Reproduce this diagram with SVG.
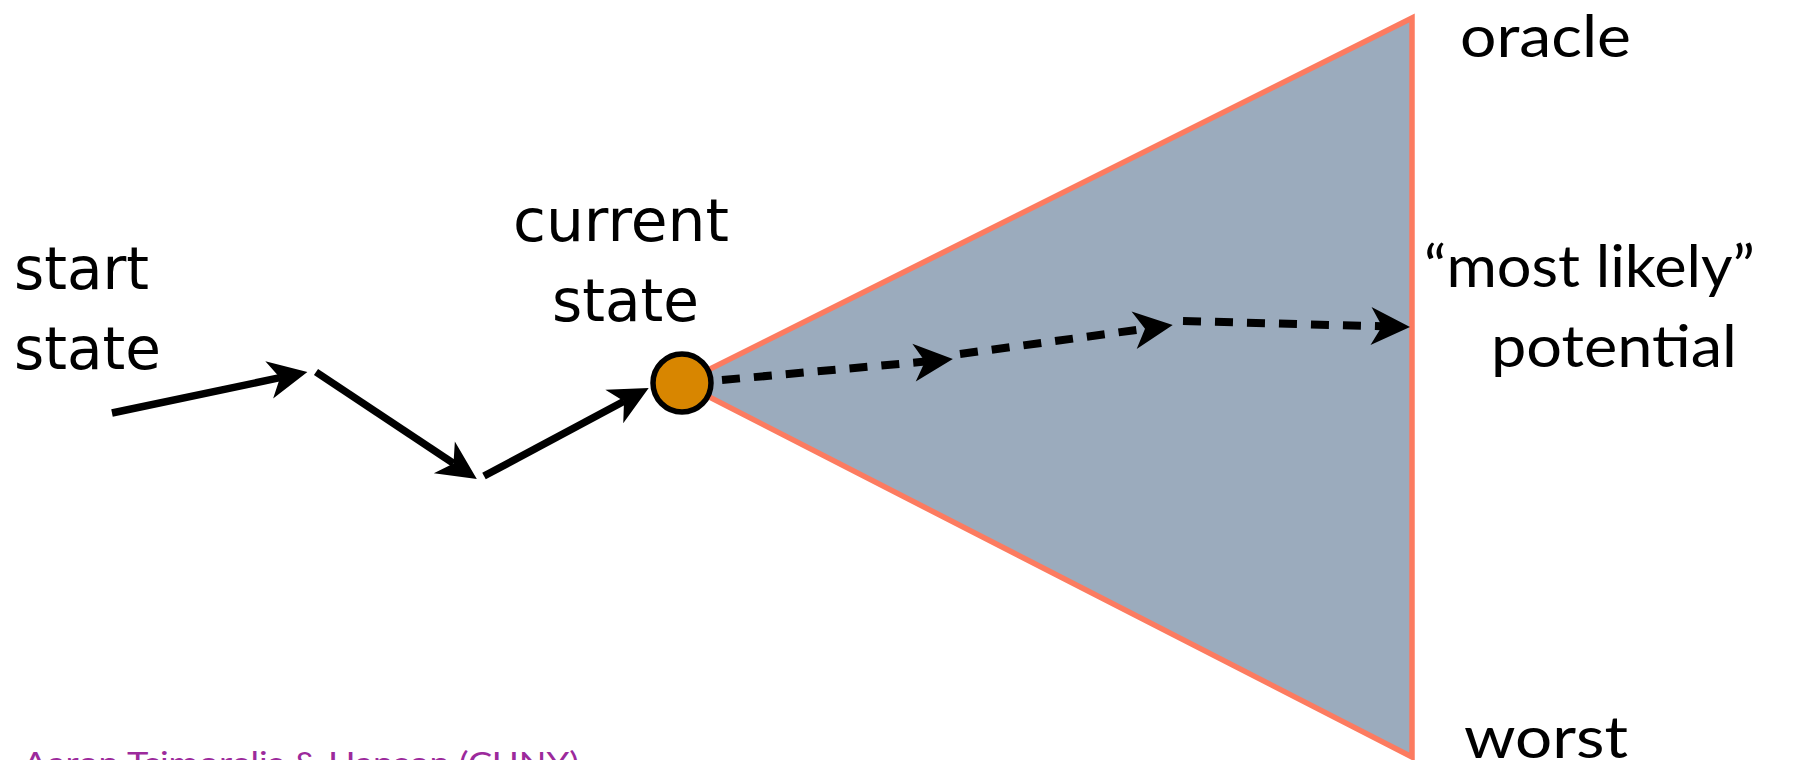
<svg xmlns="http://www.w3.org/2000/svg" width="1798" height="760" viewBox="0 0 1798 760">
<style>
.lbl{font-family:"DejaVu Sans",sans-serif;font-size:58px;fill:#000}
.rl{font-family:Lato,"Open Sans",sans-serif;font-size:58px;fill:#000}
.solid{fill:none;stroke:#000;stroke-width:7.5;marker-end:url(#ah)}
.dash{fill:none;stroke:#000;stroke-width:8;stroke-dasharray:18 14;marker-end:url(#ah)}
.foot{font-family:Lato,"Open Sans",sans-serif;font-size:30px;fill:#9C2A9C}
</style>
<defs>
<marker id="ah" markerUnits="userSpaceOnUse" markerWidth="46" markerHeight="46" viewBox="-2 -23 46 46" refX="11" refY="0" orient="auto" overflow="visible">
<path d="M0,-19 L39,0 L0,19 L11,0 Z" fill="#000"/>
</marker>
</defs>
<rect width="1798" height="760" fill="#fff"/>
<g id="cone">
<polygon points="682,383 1412,18 1412,757" fill="#9BABBD" stroke="#FC7B60" stroke-width="5.5" stroke-linejoin="miter"/>
</g>
<g id="connectors">
<line class="solid" x1="112" y1="413" x2="280" y2="377.7"/>
<line class="solid" x1="316" y1="372" x2="453.5" y2="463.4"/>
<line class="solid" x1="484" y1="476" x2="624" y2="401.3"/>
<line class="dash" x1="722" y1="380" x2="925" y2="361.6"/>
<line class="dash" x1="960" y1="354" x2="1145" y2="328.8"/>
<line class="dash" x1="1183" y1="321" x2="1382" y2="326.3"/>
</g>
<g id="current-node">
<circle cx="682" cy="383" r="29" fill="#D88600" stroke="#000" stroke-width="5.5"/>
</g>
<g id="start-label">
<text class="lbl" x="14" y="289">start</text>
<text class="lbl" x="14" y="369">state</text>
</g>
<g id="current-label">
<text class="lbl" x="513" y="241" textLength="216" lengthAdjust="spacingAndGlyphs">current</text>
<text class="lbl" x="552" y="321">state</text>
</g>
<g id="oracle-label">
<text class="rl" x="1460" y="57" textLength="171" lengthAdjust="spacingAndGlyphs">oracle</text>
</g>
<g id="likely-label">
<text class="rl" x="1424" y="287" textLength="331" lengthAdjust="spacingAndGlyphs">“most likely”</text>
<text class="rl" x="1491" y="367" textLength="246" lengthAdjust="spacingAndGlyphs">potential</text>
</g>
<g id="worst-label">
<text class="rl" x="1464" y="758" textLength="164" lengthAdjust="spacingAndGlyphs">worst</text>
</g>
<g id="footer">
<text class="foot" x="23" y="774" textLength="556" lengthAdjust="spacingAndGlyphs">Aaron Tsimorelis &amp; Hanson (CUNY)</text>
</g>
</svg>
